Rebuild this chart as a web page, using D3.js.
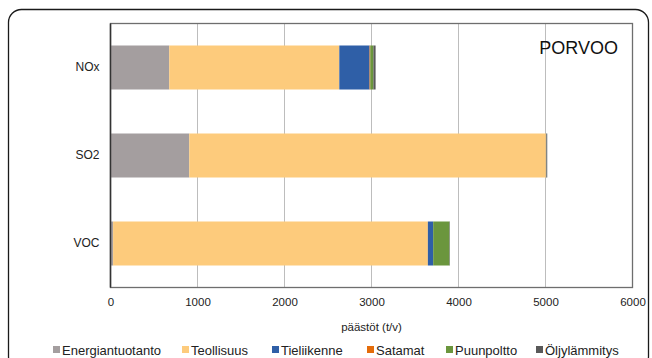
<!DOCTYPE html>
<html>
<head>
<meta charset="utf-8">
<script src="https://cdn.jsdelivr.net/npm/d3@7"></script>
<style>
  html, body { margin: 0; padding: 0; background: #fff; }
  svg { display: block; font-family: "Liberation Sans", Arial, sans-serif; }
</style>
</head>
<body>
<svg id="chart" width="652" height="358"></svg>
<script>
// Emission sources (stack order) and pollutants
const sources = ["Energiantuotanto", "Teollisuus", "Tieliikenne", "Satamat", "Puunpoltto", "Öljylämmitys"];
const pollutants = ["NOx", "SO2", "VOC"];
const colors = ["#a49e9f", "#fdcb7c", "#2f5fa7", "#e46c0a", "#6b963d", "#595959"];

// Emissions per source, t/v
const noxValues = [675, 1955, 348, 8, 36, 25];
const so2Values = [905, 4100, 3, 0, 2, 10];
const vocValues = [30, 3618, 61, 0, 187, 5];

const xTicks = [0, 1000, 2000, 3000, 4000, 5000, 6000];
const xTitle = "päästöt (t/v)";
const placeTitle = "PORVOO";

const rows = [noxValues, so2Values, vocValues].map((vals, i) => {
  const r = { pollutant: pollutants[i] };
  sources.forEach((s, j) => r[s] = vals[j]);
  return r;
});

const svg = d3.select("#chart");
const plot = { left: 110.5, right: 632.5, top: 23.5, bottom: 287.5 };

// outer frame with rounded corners
svg.append("rect")
  .attr("x", 8.5).attr("y", 9.5)
  .attr("width", 640).attr("height", 360)
  .attr("rx", 13).attr("ry", 13)
  .attr("fill", "none").attr("stroke", "#1a1a1a").attr("stroke-width", 1.3);

const x = d3.scaleLinear().domain([0, 6000]).range([plot.left, plot.right]);
const y = d3.scaleBand().domain(pollutants).range([plot.top, plot.bottom]).paddingInner(0.5).paddingOuter(0.25);

// vertical gridlines
svg.append("g").selectAll("line").data(xTicks.slice(1, -1)).join("line")
  .attr("x1", d => x(d)).attr("x2", d => x(d))
  .attr("y1", plot.top).attr("y2", plot.bottom)
  .attr("stroke", "#bdbdbd").attr("stroke-width", 1);

// plot frame
svg.append("rect")
  .attr("x", plot.left).attr("y", plot.top)
  .attr("width", plot.right - plot.left).attr("height", plot.bottom - plot.top)
  .attr("fill", "none").attr("stroke", "#6e6e6e").attr("stroke-width", 1.3);

// stacked bars
const stack = d3.stack().keys(sources)(rows);
svg.append("g").selectAll("g").data(stack).join("g")
  .attr("fill", (d, i) => colors[i])
  .selectAll("rect").data(d => d).join("rect")
  .attr("x", d => x(d[0]))
  .attr("y", d => y(d.data.pollutant))
  .attr("width", d => Math.max(0, x(d[1]) - x(d[0])))
  .attr("height", y.bandwidth());

// left axis line
svg.append("line")
  .attr("x1", plot.left).attr("x2", plot.left)
  .attr("y1", plot.top).attr("y2", plot.bottom)
  .attr("stroke", "#333").attr("stroke-width", 1.5);

// category labels
const yAxis = d3.axisLeft(y).tickSize(0).tickPadding(11);
const yg = svg.append("g").attr("transform", `translate(${plot.left},0)`).call(yAxis);
yg.select(".domain").remove();
yg.selectAll("text").attr("font-size", 12).attr("fill", "#222")
  .attr("font-family", "Liberation Sans, Arial, sans-serif");

// value axis
const xAxis = d3.axisBottom(x).tickValues(xTicks).tickSize(0).tickPadding(10).tickFormat(d3.format("d"));
const xg = svg.append("g").attr("transform", `translate(0,${plot.bottom})`).call(xAxis);
xg.select(".domain").remove();
xg.selectAll("text").attr("font-size", 11.5).attr("fill", "#222")
  .attr("font-family", "Liberation Sans, Arial, sans-serif");

svg.append("text")
  .attr("x", (plot.left + plot.right) / 2).attr("y", 331)
  .attr("text-anchor", "middle").attr("font-size", 11.5).attr("fill", "#222")
  .text(xTitle);

svg.append("text")
  .attr("x", 618).attr("y", 54)
  .attr("text-anchor", "end").attr("font-size", 18).attr("fill", "#111")
  .text(placeTitle);

// legend
const legendX = [53, 182, 272, 367, 446, 536];
const lg = svg.append("g").selectAll("g").data(sources).join("g")
  .attr("transform", (d, i) => `translate(${legendX[i]},350)`);
lg.append("rect").attr("x", 0).attr("y", -4).attr("width", 7).attr("height", 7)
  .attr("fill", (d, i) => colors[i]);
lg.append("text").attr("x", 9).attr("y", 4.5)
  .attr("font-size", 13).attr("fill", "#222").text(d => d);
</script>
</body>
</html>
